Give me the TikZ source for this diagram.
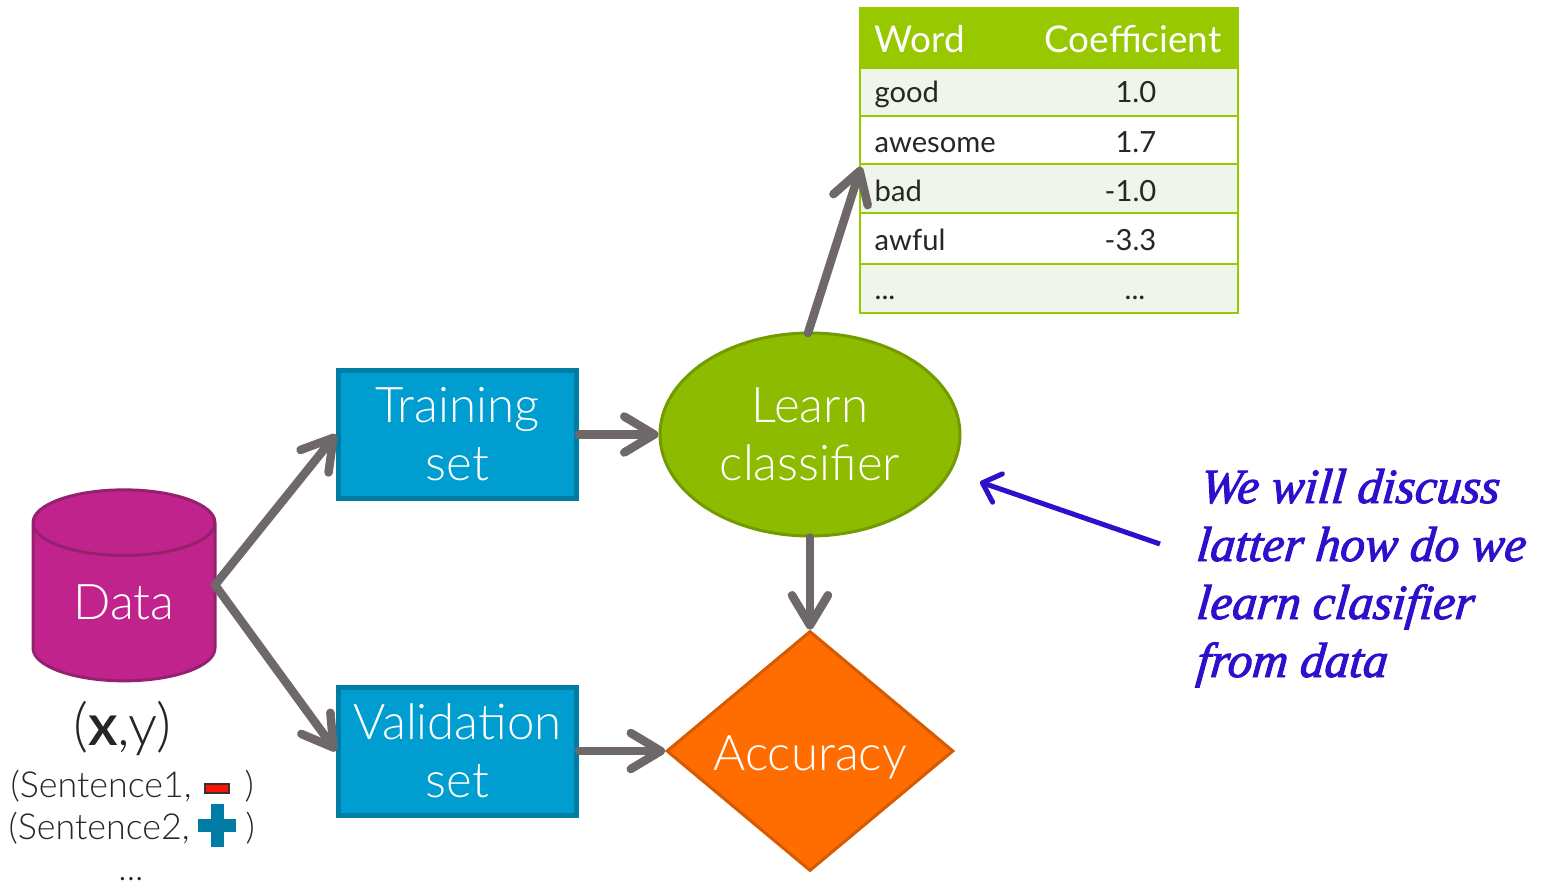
\documentclass[tikz,border=0pt]{standalone}
\usepackage{fontspec}
\setmainfont{Lato Light}
\newfontfamily\tablefont{Lato}
\newfontfamily\notefont[ItalicFeatures={FakeBold=2,FakeSlant=0.1}]{Liberation Serif}
\usepackage{xcolor}
\usetikzlibrary{arrows, arrows.meta, shapes.geometric}
\definecolor{flowgray}{HTML}{6E6868}
\definecolor{boxblue}{HTML}{009DD1}
\definecolor{boxedge}{HTML}{007CA5}
\definecolor{leafgreen}{HTML}{8CBB00}
\definecolor{leafedge}{HTML}{739A00}
\definecolor{headgreen}{HTML}{97C800}
\definecolor{rowtint}{HTML}{EFF5EA}
\definecolor{noteblue}{HTML}{2E10CC}
\definecolor{datafill}{HTML}{C0248C}
\definecolor{dataedge}{HTML}{96206F}
\definecolor{accfill}{HTML}{FF6C00}
\definecolor{accedge}{HTML}{D55A00}
\tikzset{
  flow/.style={-{Straight Barb[length=3mm,width=3.6mm,round]},line width=0.85mm,flowgray,line cap=round},
  shape text/.style={text=white,font=\fontsize{14}{16}\selectfont,align=center,inner sep=0pt},
  set box/.style={shape text,draw=boxedge,fill=boxblue,line width=0.5mm,minimum width=2.38cm,minimum height=1.28cm},
  row/.style={draw=headgreen,line width=0.2mm,minimum width=3.78cm,inner sep=0pt},
  cell/.style={font=\tablefont\fontsize{8.3}{10}\selectfont,text=black!85,inner sep=0pt},
  head cell/.style={text=white,inner sep=0pt,font=\tablefont\fontsize{10.5}{12}\selectfont},
  sample/.style={font=\fontsize{10.2}{12}\selectfont,text=black!85,inner sep=0pt},
  note line/.style={anchor=base west,text=noteblue,inner sep=0pt,font=\notefont\itshape\fontsize{14}{16}\selectfont}
}
\begin{document}
\begin{tikzpicture}
\useasboundingbox (0,0) rectangle (15.46,8.88);
\node[shape text,cylinder,shape border rotate=90,aspect=0.65,draw=dataedge,fill=datafill,line width=0.3mm,minimum width=1.82cm,minimum height=1.91cm] (data) at (1.24,2.855) {Data};
\node[set box] (training) at (4.575,4.535) {Training\\[0.5pt]set};
\node[set box] (validation) at (4.575,1.37) {Validation\\[0.5pt]set};
\node[shape text,ellipse,draw=leafedge,fill=leafgreen,line width=0.3mm,minimum width=3cm,minimum height=2.03cm] (learn) at (8.10,4.535) {Learn\\[0.5pt]classifier};
\node[shape text,diamond,aspect=1.2,draw=accedge,fill=accfill,line width=0.3mm,minimum width=2.87cm,minimum height=2.40cm] (accuracy) at (8.10,1.37) {\raisebox{0pt}[0.49cm][0.1cm]{Accuracy}};
\node[row,fill=headgreen,minimum height=0.60cm] (head) at (10.49,8.50) {};
\node[row,fill=rowtint,minimum height=0.48cm] (good) at (10.49,7.96) {};
\node[row,fill=white,minimum height=0.48cm] (awesome) at (10.49,7.48) {};
\node[row,fill=rowtint,minimum height=0.49cm] (bad) at (10.49,6.995) {};
\node[row,fill=white,minimum height=0.51cm] (awful) at (10.49,6.495) {};
\node[row,fill=rowtint,minimum height=0.49cm] (dots) at (10.49,5.995) {};
\node[head cell,anchor=west] (wordhead) at (8.74,8.49) {Word};
\node[head cell,anchor=east] (coefhead) at (12.22,8.49) {Coefficient};
\node[cell,anchor=west] at (8.74,7.94) {good};
\node[cell,anchor=west] at (8.74,7.43) {awesome};
\node[cell,anchor=west] at (8.74,6.97) {bad};
\node[cell,anchor=west] at (8.74,6.48) {awful};
\node[cell,anchor=west] at (8.74,5.90) {...};
\node[cell,anchor=east] at (11.57,7.96) {1.0};
\node[cell,anchor=east] at (11.57,7.46) {1.7};
\node[cell,anchor=east] at (11.57,6.97) {-1.0};
\node[cell,anchor=east] at (11.57,6.48) {-3.3};
\node[cell,anchor=east] at (11.46,5.90) {...};
\node[inner sep=0pt,text=black!85,font=\fontsize{16.5}{18}\selectfont] (pair) at (1.22,1.60) {(\textbf{x},y)};
\node[sample,anchor=west] (first) at (0.10,1.02) {(Sentence1,};
\node[sample,anchor=west] at (2.44,1.02) {)};
\node[sample,anchor=west] (second) at (0.08,0.60) {(Sentence2,};
\node[sample,anchor=west] at (2.45,0.60) {)};
\node[sample] (more) at (1.31,0.09) {...};
\node[draw=black!80,fill=red!85!orange,line width=0.2mm,minimum width=0.24cm,minimum height=0.09cm,inner sep=0pt] (minus) at (2.17,1.00) {};
\node[fill=boxedge,minimum width=0.38cm,minimum height=0.13cm,inner sep=0pt] (plusbar) at (2.17,0.63) {};
\node[fill=boxedge,minimum width=0.13cm,minimum height=0.43cm,inner sep=0pt] (plusstem) at (2.17,0.63) {};
\coordinate (split) at (2.15,3.03);
\coordinate (table tip) at (8.61,7.21);
\coordinate (learn top) at (8.08,5.55);
\draw[flow] (split)--(training.west);
\draw[flow] (split)--(validation.west);
\draw[flow] (training.east)--(learn.west);
\draw[flow] (validation.east)--(accuracy.west);
\draw[flow] (learn.south)--(accuracy.north);
\draw[flow] (learn top)--(table tip);
\node[note line] (note1) at (11.99,3.85) {We will discuss};
\node[note line] (note2) at (11.95,3.27) {latter how do we};
\node[note line] (note3) at (11.95,2.69) {learn clasifier};
\node[note line] (note4) at (11.95,2.11) {from data};
\coordinate (note start) at (11.60,3.44);
\coordinate (note end) at (9.80,4.06);
\draw[-{Straight Barb[length=1.6mm,width=3mm,round]},line width=0.5mm,noteblue] (note start)--(note end);
\end{tikzpicture}
\end{document}
